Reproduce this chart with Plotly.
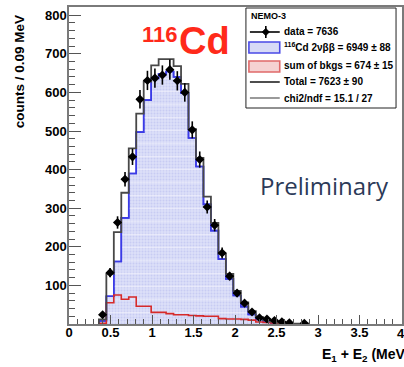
import numpy as np
import plotly.graph_objects as go

# ---------------- data ----------------
bin_width = 0.09
centers = [0.405, 0.495, 0.585, 0.675, 0.765, 0.855, 0.945, 1.035, 1.125, 1.215,
           1.305, 1.395, 1.485, 1.575, 1.665, 1.755, 1.845, 1.935, 2.025, 2.115,
           2.205, 2.295, 2.385, 2.475, 2.565, 2.655, 2.745, 2.835]

mc_2nbb = [8, 72, 162, 275, 390, 497, 580, 636, 648, 654,
           640, 598, 482, 408, 310, 242, 168, 117, 74, 45,
           25, 12, 6, 3, 2, 1, 0.5, 0.3]

bkg_sum = [2, 55, 75, 64, 70, 46, 46, 30, 30, 27,
           24, 24, 22, 21, 20, 20, 14, 13, 13, 12,
           10, 5, 4, 3, 2, 1, 0.5, 0.3]

total = [12, 130, 238, 340, 455, 545, 628, 670, 686, 686,
         668, 622, 505, 430, 330, 262, 182, 130, 86, 56,
         33, 18, 10, 6, 3, 2, 1, 1]

data_x = [0.405, 0.495, 0.585, 0.675, 0.765, 0.855, 0.945, 1.035, 1.125, 1.215,
          1.305, 1.395, 1.485, 1.575, 1.665, 1.755, 1.845, 1.935, 2.025, 2.115,
          2.205, 2.295, 2.385, 2.475, 2.565, 2.655, 2.835]
data_y = [24, 133, 263, 375, 433, 582, 631, 637, 645, 659,
          630, 600, 503, 426, 303, 256, 184, 124, 80, 54,
          31, 16, 13, 9, 6, 3, 2]
data_err = [5, 12, 16, 19, 21, 24, 25, 25, 25, 26,
            25, 24, 22, 21, 17, 16, 14, 11, 9, 7,
            6, 4, 4, 3, 2, 2, 1]

x_tickvals = [0, 0.5, 1, 1.5, 2, 2.5, 3, 3.5, 4]
x_ticktext = ["0", "0.5", "1", "1.5", "2", "2.5", "3", "3.5", "4"]
y_tickvals = [100, 200, 300, 400, 500, 600, 700, 800]
y_ticktext = ["100", "200", "300", "400", "500", "600", "700", "800"]

legend_header = "NEMO-3"
legend_labels = ["data = 7636",
                 "<sup>116</sup>Cd 2νββ = 6949 ± 88",
                 "sum of bkgs = 674 ± 15",
                 "Total = 7623 ± 90",
                 "chi2/ndf = 15.1 / 27"]

# ---------------- geometry helpers ----------------
W, H = 404, 367
L, R, T, B = 69, 0, 7, 43
PW, PH = W - L - R, H - T - B


def fx(p):
    return (p - L) / PW


def fy(p):
    return (H - B - p) / PH


def step_xy(vals):
    c = np.asarray(centers)
    edges = np.append(c - bin_width / 2, c[-1] + bin_width / 2)
    xs = np.concatenate([[edges[0]], edges[:-1], [edges[-1], edges[-1]]])
    v = list(vals)
    ys = np.concatenate([[0], v, [v[-1], 0]])
    return xs, ys


fig = go.Figure()

# 2nbb MC filled histogram
xs, ys = step_xy(mc_2nbb)
fig.add_trace(go.Scatter(
    x=xs, y=ys, mode="lines", line=dict(shape="hv", color="#3b3be6", width=1.6),
    fill="tozeroy", fillcolor="#d7daf6",
    fillpattern=dict(shape=".", fgcolor="#b3b8ee", bgcolor="#dcdff8", size=3, solidity=0.35),
    hoverinfo="skip", showlegend=False))
fig.add_trace(go.Scatter(
    x=xs, y=ys, mode="lines", line=dict(shape="hv", color="#3b3be6", width=1.6),
    fill="tozeroy",
    fillpattern=dict(shape="-", fgcolor="rgba(255,255,255,0.75)", bgcolor="rgba(0,0,0,0)",
                     size=13, solidity=0.12),
    hoverinfo="skip", showlegend=False))

# background sum
xs, ys = step_xy(bkg_sum)
fig.add_trace(go.Scatter(x=xs, y=ys, mode="lines",
                         line=dict(shape="hv", color="#d62a2a", width=1.6),
                         hoverinfo="skip", showlegend=False))

# total
xs, ys = step_xy(total)
fig.add_trace(go.Scatter(x=xs, y=ys, mode="lines",
                         line=dict(shape="hv", color="#484848", width=1.8),
                         hoverinfo="skip", showlegend=False))

# data
fig.add_trace(go.Scatter(
    x=data_x, y=data_y, mode="markers",
    marker=dict(symbol="diamond", size=7, color="black"),
    error_y=dict(type="data", array=data_err, visible=True, color="black", thickness=1.6, width=0),
    error_x=dict(type="constant", value=bin_width / 2, visible=True, color="black", thickness=1.4, width=0),
    hoverinfo="skip", showlegend=False))

tickfont = dict(family="Liberation Sans", size=13, color="black", weight="bold")

fig.update_layout(
    width=W, height=H,
    margin=dict(l=L, r=R, t=T, b=B, pad=0),
    paper_bgcolor="white", plot_bgcolor="white",
    showlegend=False,
    xaxis=dict(range=[0, PW / 83.5], tickmode="array", tickvals=x_tickvals, ticktext=x_ticktext,
               ticks="inside", ticklen=9, tickwidth=1.2, tickcolor="#555555",
               minor=dict(dtick=0.1, ticks="inside", ticklen=5, tickcolor="#555555", tickwidth=1),
               showline=True, linecolor="#7a7a7a", linewidth=1.5, mirror=True,
               showgrid=False, zeroline=False, tickfont=tickfont, ticklabelstandoff=-4),
    yaxis=dict(range=[0, PH / 0.386], tickmode="array", tickvals=y_tickvals, ticktext=y_ticktext,
               ticks="inside", ticklen=12, tickwidth=1.2, tickcolor="#555555",
               minor=dict(dtick=20, ticks="inside", ticklen=6, tickcolor="#555555", tickwidth=1),
               showline=True, linecolor="#7a7a7a", linewidth=1.5, mirror=True,
               showgrid=False, zeroline=False, tickfont=tickfont, ticklabelstandoff=-2),
)

shapes = []
annos = []

# last x tick label (sits on the right edge and is partly cut off, as in the reference)
annos.append(dict(xref="x", yref="paper", x=x_tickvals[-1], y=fy(333), text=x_ticktext[-1],
                  showarrow=False, xanchor="center", yanchor="middle", font=tickfont))

# axis titles
annos.append(dict(xref="paper", yref="paper", x=fx(20), y=fy(72), text="counts / 0.09 MeV",
                  textangle=-90, showarrow=False, xanchor="center", yanchor="middle",
                  font=dict(family="Liberation Sans", size=13.5, color="black", weight="bold")))
annos.append(dict(xref="paper", yref="paper", x=fx(322), y=fy(355),
                  text="E<sub>1</sub> + E<sub>2</sub> (MeV)",
                  showarrow=False, xanchor="left", yanchor="middle",
                  font=dict(family="Liberation Sans", size=14, color="black", weight="bold")))

# 116Cd label
annos.append(dict(xref="paper", yref="paper", x=fx(140), y=fy(34), text="116",
                  showarrow=False, xanchor="left", yanchor="middle",
                  font=dict(family="Liberation Sans", size=22, color="#ff2a1a", weight="bold")))
annos.append(dict(xref="paper", yref="paper", x=fx(178), y=fy(41), text="Cd",
                  showarrow=False, xanchor="left", yanchor="middle",
                  font=dict(family="Liberation Sans", size=38, color="#ff2a1a", weight="bold")))

# Preliminary
annos.append(dict(xref="paper", yref="paper", x=fx(259), y=fy(185), text="Preliminary",
                  showarrow=False, xanchor="left", yanchor="middle",
                  font=dict(family="Open Sans", size=24, color="#2c3a58")))

# legend box
shapes.append(dict(type="rect", xref="paper", yref="paper", x0=fx(247), x1=fx(398), y0=fy(108), y1=fy(8),
                   line=dict(color="#222222", width=1), fillcolor="white", layer="above"))
annos.append(dict(xref="paper", yref="paper", x=fx(250), y=fy(16), text=legend_header,
                  showarrow=False, xanchor="left", yanchor="middle",
                  font=dict(family="Liberation Sans", size=9, color="black", weight="bold")))
rows = [32, 47, 66, 82, 98]
for r, lab in zip(rows, legend_labels):
    annos.append(dict(xref="paper", yref="paper", x=fx(283), y=fy(r), text=lab,
                      showarrow=False, xanchor="left", yanchor="middle",
                      font=dict(family="Liberation Sans", size=10, color="black", weight="bold")))
# data symbol
shapes.append(dict(type="line", xref="paper", yref="paper", x0=fx(251), x1=fx(281), y0=fy(32), y1=fy(32),
                   line=dict(color="black", width=1.6), layer="above"))
shapes.append(dict(type="line", xref="paper", yref="paper", x0=fx(267), x1=fx(267), y0=fy(26), y1=fy(38),
                   line=dict(color="black", width=1.6), layer="above"))
shapes.append(dict(type="path", xref="paper", yref="paper",
                   path=f"M {fx(267)},{fy(28.5)} L {fx(270.5)},{fy(32)} L {fx(267)},{fy(35.5)} L {fx(263.5)},{fy(32)} Z",
                   fillcolor="black", line=dict(color="black", width=1), layer="above"))
# 2nbb box
shapes.append(dict(type="rect", xref="paper", yref="paper", x0=fx(250), x1=fx(281), y0=fy(53), y1=fy(42),
                   line=dict(color="#4a4ae6", width=1.6), fillcolor="#d7daf6", layer="above"))
# bkg box
shapes.append(dict(type="rect", xref="paper", yref="paper", x0=fx(250), x1=fx(281), y0=fy(72), y1=fy(61),
                   line=dict(color="#e06a6a", width=1.6), fillcolor="#f5d2d2", layer="above"))
# total line
shapes.append(dict(type="line", xref="paper", yref="paper", x0=fx(251), x1=fx(281), y0=fy(82), y1=fy(82),
                   line=dict(color="#222222", width=1.6), layer="above"))
# chi2 line
shapes.append(dict(type="line", xref="paper", yref="paper", x0=fx(251), x1=fx(281), y0=fy(98), y1=fy(98),
                   line=dict(color="#9a9a9a", width=2), layer="above"))

fig.update_layout(shapes=shapes, annotations=annos)

fig.write_html("out.html")
